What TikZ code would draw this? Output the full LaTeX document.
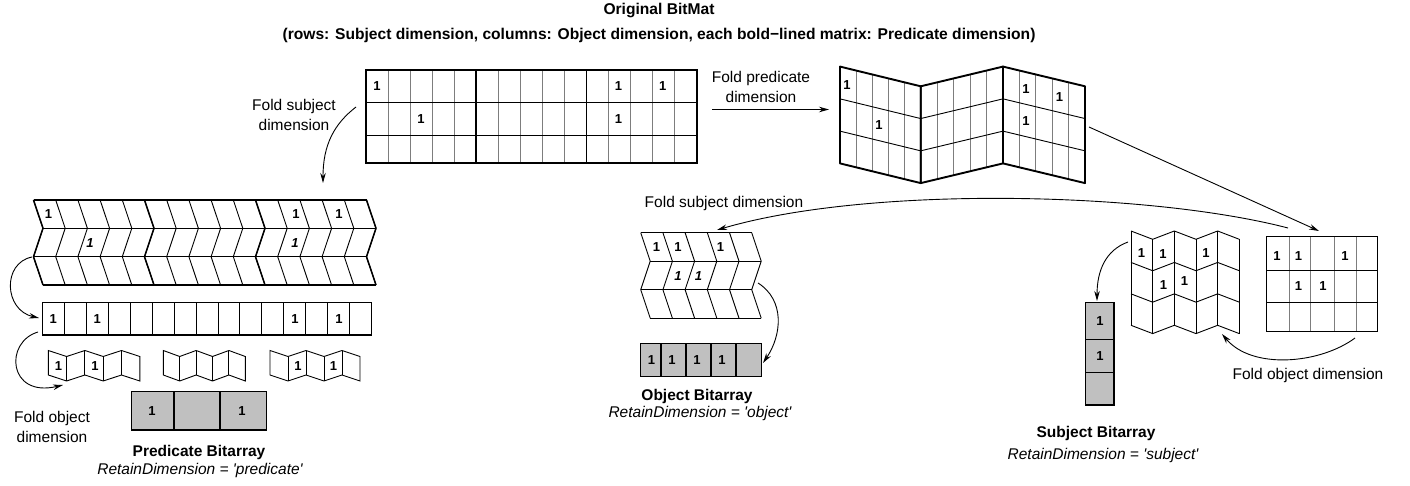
\documentclass[tikz,border=0pt]{standalone}
\usepackage{fontspec}
\setmainfont{Liberation Sans}
\usetikzlibrary{arrows.meta}
\definecolor{gridgray}{RGB}{125,125,125}
\definecolor{cellfill}{RGB}{192,192,192}
\tikzset{
  thinln/.style={line width=0.9pt, draw=black},
  grayln/.style={line width=0.9pt, draw=gridgray},
  medln/.style={line width=1.3pt, draw=black},
  boldln/.style={line width=1.9pt, draw=black, line join=round},
  chevbold/.style={line width=1.5pt, draw=black, line join=round},
  arr/.style={line width=0.9pt, draw=black, -{Stealth[length=10pt,width=5.5pt]}},
  one/.style={font=\fontsize{13}{13}\selectfont\bfseries, inner sep=0pt},
  onei/.style={font=\fontsize{13}{13}\selectfont\bfseries\itshape, inner sep=0pt},
  lbl/.style={font=\fontsize{15.5}{20}\selectfont, inner sep=0pt, align=center},
  blbl/.style={font=\fontsize{15.5}{20}\selectfont\bfseries, inner sep=0pt},
  ilbl/.style={font=\fontsize{15.5}{20}\selectfont\itshape, inner sep=0pt},
  ttl/.style={font=\fontsize{15.6}{18}\selectfont\bfseries, inner sep=0pt},
}
\newcommand\fpanel[4]{%
  \foreach \k in {1,...,4}
    \draw[grayln] ({#1+(#3-#1)*\k/5},{#2+(#4-#2)*\k/5}) -- ++(0,96.8);
  \foreach \k in {1,2}
    \draw[thinln] (#1,{#2+96.8*\k/3}) -- (#3,{#4+96.8*\k/3});
  \draw[boldln] (#1,#2) -- (#3,#4) -- (#3,{#4+96.8}) -- (#1,{#2+96.8}) -- cycle;
}
\newcommand\minizz[2]{%
  \draw[thinln] (#1,350.5) \foreach \k in {1,...,5}{ -- ({#1+#2*\k},{350.5+6*mod(\k,2)}) }
     -- ++(0,24.5) \foreach \k in {4,3,...,0}{ -- ({#1+#2*\k},{375+6*mod(\k,2)}) } -- cycle;
  \foreach \k in {1,...,4} \draw[thinln] ({#1+#2*\k},{350.5+6*mod(\k,2)}) -- ++(0,24.5);
}
\begin{document}
\begin{tikzpicture}[x=1pt,y=-1pt]
\useasboundingbox (0,0) rectangle (1410,486);
\fill[white] (0,0) rectangle (1410,486);

% ---------- titles ----------
\node[ttl] (title1) at (659,11) {Original BitMat};
\node[ttl] (title2) at (659,35) {(rows: Subject dimension, columns: Object dimension, each bold−lined matrix: Predicate dimension)};

% ---------- original bitmat ----------
\foreach \i in {1,2,3,4,6,7,8,9,11,12,13,14}
  \draw[grayln] ({366+22.05*\i},70) -- ({366+22.05*\i},163);
\draw[thinln] (366,102) -- (696.7,102) (366,135) -- (696.7,135);
\draw[boldln] ({366+22.05*5},70) -- ({366+22.05*5},163) ({366+22.05*10},70) -- ({366+22.05*10},163);
\draw[boldln, line join=miter] (366,70) rectangle (696.7,163);
\foreach \x/\y [count=\n] in {377/86, 618.6/86, 662.7/86, 421.1/119, 618.6/119}
  \node[one] (orig\n) at (\x,\y) {1};

% ---------- folded predicate ----------
\fpanel{840}{66.6}{920.7}{86.3}
\fpanel{920.7}{86.3}{1003}{66.6}
\fpanel{1003}{66.6}{1085}{86.3}
\foreach \x/\y [count=\n] in {847/85.5, 879/125, 1026/89, 1059.4/97, 1026/121}
  \node[one] (fp\n) at (\x,\y) {1};

% ---------- left chevrons ----------
\foreach \i in {0,...,15}{
  \pgfmathsetmacro\cx{33.5+22.2*\i}
  \draw[thinln] (\cx,200) -- ({\cx+9.5},228.3) -- (\cx,256.7) -- ({\cx+9.5},285);
}
\foreach \i in {0,5,10,15}{
  \pgfmathsetmacro\cx{33.5+22.2*\i}
  \draw[chevbold] (\cx,200) -- ({\cx+9.5},228.3) -- (\cx,256.7) -- ({\cx+9.5},285);
}
\draw[chevbold] (33.5,200) -- (366.5,200) (43,285) -- (376,285);
\draw[medln] (43,228.3) -- (376,228.3) (33.5,256.7) -- (366.5,256.7);
\foreach \x/\y [count=\n] in {48.5/214.5, 296/214.5, 339/214.5}
  \node[one] (lc\n) at (\x,\y) {1};
\foreach \x/\y [count=\n] in {90/243, 295/243}
  \node[onei] (lci\n) at (\x,\y) {1};

% ---------- single row ----------
\foreach \i in {1,...,14}
  \draw[thinln] ({42.3+21.96*\i},302.3) -- ({42.3+21.96*\i},335);
\draw[medln] (42.3,302.3) rectangle (371.7,335);
\foreach \x/\y [count=\n] in {53.3/319, 97.2/319, 295/319, 338.9/319}
  \node[one] (row\n) at (\x,\y) {1};

% ---------- mini zigzags ----------
\minizz{48.3}{18.3}
\minizz{163.3}{16.4}
\minizz{270}{18}
\foreach \x/\y [count=\n] in {58.5/366.5, 95/366.5, 298/366.5, 333.5/366.5}
  \node[one] (mz\n) at (\x,\y) {1};

% ---------- predicate bitarray ----------
\filldraw[fill=cellfill, medln] (131.7,391.7) rectangle (266.7,430);
\draw[medln] (174,391.7) -- (174,430) (220,391.7) -- (220,430);
\node[one] (pb1) at (152,411) {1};
\node[one] (pb2) at (242,411) {1};

% ---------- middle chevrons ----------
\foreach \i in {0,...,5}{
  \pgfmathsetmacro\cx{640.7+22.2*\i}
  \draw[thinln] (\cx,232.7) -- ({\cx+9.5},261.2) -- (\cx,289.7) -- ({\cx+9.5},318.2);
}
\draw[thinln] (640.7,232.7) -- (751.7,232.7) (650.2,261.2) -- (761.2,261.2)
  (640.7,289.7) -- (751.7,289.7) (650.2,318.2) -- (761.2,318.2);
\foreach \x/\y [count=\n] in {656.5/247.5, 678/247.5, 720.5/247.5}
  \node[one] (mc\n) at (\x,\y) {1};
\foreach \x/\y [count=\n] in {678/276, 698.5/276}
  \node[onei] (mci\n) at (\x,\y) {1};

% ---------- object bitarray ----------
\filldraw[fill=cellfill, medln] (640.7,343.3) rectangle (761.7,376.7);
\draw[medln] (661,343.3) -- (661,376.7) (686,343.3) -- (686,376.7)
  (711,343.3) -- (711,376.7) (736,343.3) -- (736,376.7);
\foreach \x [count=\n] in {651.5, 672, 697, 722}
  \node[one] (ob\n) at (\x,360.5) {1};

% ---------- right matrix ----------
\foreach \x in {1289,1310.7,1334.3,1356}
  \draw[grayln] (\x,236.7) -- (\x,331.7);
\draw[thinln] (1266.7,270) -- (1377.7,270) (1266.7,302.7) -- (1377.7,302.7);
\draw[medln] (1266.7,236.7) rectangle (1377.7,331.7);
\foreach \x/\y [count=\n] in {1277/256, 1298.5/256, 1345/256, 1298.5/286, 1323/286}
  \node[one] (rm\n) at (\x,\y) {1};

% ---------- folded object (right) ----------
\foreach \k in {0,...,5}
  \draw[thinln] ({1131+21.66*\k},{231+8.3*mod(\k,2)}) -- ++(0,94.3);
\foreach \r in {0,1,2,3}
  \draw[thinln] (1131,{231+94.3*\r/3}) \foreach \k in {1,...,5}{ -- ({1131+21.66*\k},{231+8.3*mod(\k,2)+94.3*\r/3}) };
\foreach \x/\y [count=\n] in {1141.5/253, 1163/254, 1206/253, 1163.5/285, 1184.5/281.5}
  \node[one] (fo\n) at (\x,\y) {1};

% ---------- subject bitarray ----------
\filldraw[fill=cellfill, medln] (1085.7,302.3) rectangle (1114,405);
\draw[medln] (1085.7,339.3) -- (1114,339.3) (1085.7,372.3) -- (1114,372.3);
\node[one] (sb1) at (1100,321.5) {1};
\node[one] (sb2) at (1100,356) {1};

% ---------- labels ----------
\node[lbl] (fsl) at (294,115) {Fold subject\\dimension};
\node[lbl] (fpd) at (761,87) {Fold predicate\\dimension};
\node[lbl] (fsm) at (724,203) {Fold subject dimension};
\node[lbl] (fobr) at (1308,375) {Fold object dimension};
\node[lbl] (fobl) at (52,427) {Fold object\\dimension};
\node[blbl] (pbl) at (199,452) {Predicate Bitarray};
\node[ilbl] (prd) at (200,470) {RetainDimension = \textquotesingle predicate\textquotesingle};
\node[blbl] (obl) at (697,396) {Object Bitarray};
\node[ilbl] (ord) at (700,413) {RetainDimension = \textquotesingle object\textquotesingle};
\node[blbl] (sbl) at (1096,433) {Subject Bitarray};
\node[ilbl] (srd) at (1103,455) {RetainDimension = \textquotesingle subject\textquotesingle};

% ---------- arrows ----------
\coordinate (a1s) at (356,107); \coordinate (a1e) at (323,183);
\draw[arr] (a1s) .. controls (334,124) and (323,145) .. (a1e);
\coordinate (a2s) at (712,109.5); \coordinate (a2e) at (829,109.5);
\draw[arr] (a2s) -- (a2e);
\coordinate (a3s) at (1089,127); \coordinate (a3e) at (1319,231);
\draw[arr] (a3s) -- (a3e);
\coordinate (a4s) at (1288,228); \coordinate (a4e) at (717,230);
\draw[arr] (a4s) .. controls (1150,192) and (870,185) .. (a4e);
\coordinate (a5s) at (32,257); \coordinate (a5e) at (39,318);
\draw[arr] (a5s) .. controls (2,263) and (4,310) .. (a5e);
\coordinate (a6s) at (38,332); \coordinate (a6e) at (63,385);
\draw[arr] (a6s) .. controls (4,342) and (8,398) .. (a6e);
\coordinate (a7s) at (758,283); \coordinate (a7e) at (763,363);
\draw[arr] (a7s) .. controls (785,300) and (782,335) .. (a7e);
\coordinate (a8s) at (1355,338); \coordinate (a8e) at (1222,334);
\draw[arr] (a8s) .. controls (1320,364) and (1252,370) .. (a8e);
\coordinate (a9s) at (1128,242); \coordinate (a9e) at (1097,301);
\draw[arr] (a9s) .. controls (1106,250) and (1097,270) .. (a9e);
\end{tikzpicture}
\end{document}
